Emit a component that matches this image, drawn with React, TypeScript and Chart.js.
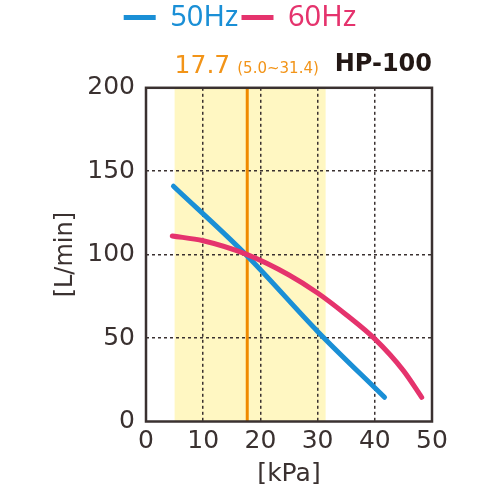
import React, { useEffect, useRef } from "react";
import { Chart, registerables } from "chart.js";

Chart.register(...registerables);

const kPa50 = [4.8, 17.7, 30, 41.7];
const flow50 = [141, 99.2, 54, 14.5];
const kPa60 = [4.6, 10, 17.7, 25, 30, 35, 40, 45, 48.2];
const flow60 = [111.2, 108.3, 100, 87.8, 77, 64, 49.5, 30.5, 14.5];
const seriesLabels = ["50Hz", "60Hz"];
const ratedKPa = 17.7;
const rangeKPa = [5.0, 31.4];
const yRange = [0, 200];
const xRange = [0, 50];
const modelName = "HP-100";

const BLUE = "#1a8fd6";
const PINK = "#e5336d";
const ORANGE = "#f08a00";
const ORANGE_TEXT = "#f29418";
const DARK = "#3a3130";
const BAND = "#fff7c2";
const FONT = "'Noto Sans', sans-serif";
const NUMFONT = "'DejaVu Sans', sans-serif";

export default function App() {
  const ref = useRef<HTMLCanvasElement>(null);
  useEffect(() => {
    const canvas = ref.current!;
    const bandPlugin = {
      id: "band",
      beforeDraw(chart: any) {
        const { ctx, chartArea, scales } = chart;
        const x0 = scales.x.getPixelForValue(rangeKPa[0]);
        const x1 = scales.x.getPixelForValue(rangeKPa[1]);
        ctx.save();
        ctx.fillStyle = BAND;
        ctx.fillRect(x0, chartArea.top, x1 - x0, chartArea.bottom - chartArea.top);
        ctx.restore();
      },
      afterDraw(chart: any) {
        const { ctx, chartArea, scales } = chart;
        ctx.save();
        ctx.strokeStyle = DARK;
        ctx.lineWidth = 2.5;
        ctx.strokeRect(chartArea.left, chartArea.top, chartArea.right - chartArea.left, chartArea.bottom - chartArea.top);
        const x = scales.x.getPixelForValue(rangeKPa[0]);
        const base = 73;
        ctx.fillStyle = ORANGE_TEXT;
        ctx.textBaseline = "alphabetic";
        ctx.textAlign = "left";
        ctx.font = `25px ${NUMFONT}`;
        const main = String(ratedKPa);
        ctx.fillText(main, x, base);
        const w = ctx.measureText(main).width;
        ctx.font = `15px ${NUMFONT}`;
        ctx.fillText(`(${rangeKPa[0].toFixed(1)}~${rangeKPa[1].toFixed(1)})`, x + w + 7, base);
        ctx.restore();
      },
    };
    const chart = new Chart(canvas, {
      type: "line",
      data: {
        datasets: [
          {
            label: seriesLabels[1],
            data: kPa60.map((x, i) => ({ x, y: flow60[i] })),
            borderColor: PINK,
            backgroundColor: PINK,
            borderWidth: 5,
            borderCapStyle: "round",
            pointRadius: 0,
            cubicInterpolationMode: "monotone",
            order: 1,
          },
          {
            label: seriesLabels[0],
            data: kPa50.map((x, i) => ({ x, y: flow50[i] })),
            borderColor: BLUE,
            backgroundColor: BLUE,
            borderWidth: 5,
            borderCapStyle: "round",
            pointRadius: 0,
            cubicInterpolationMode: "monotone",
            order: 2,
          },
          {
            label: "",
            data: yRange.map((y) => ({ x: ratedKPa, y })),
            borderColor: ORANGE,
            backgroundColor: ORANGE,
            borderWidth: 3,
            pointRadius: 0,
            order: 3,
          },
        ],
      },
      options: {
        animation: false,
        responsive: false,
        devicePixelRatio: 1,
        layout: { padding: { top: 0, left: 48, right: 68, bottom: 11 } },
        plugins: {
          tooltip: { enabled: false },
          legend: {
            display: true,
            position: "top",
            weight: 3000,
            labels: {
              padding: 3,
              boxWidth: 32,
              boxHeight: 5,
              useBorderRadius: true,
              borderRadius: 2.5,
              font: { family: FONT, size: 29 },
              generateLabels: () =>
                [0, 1].map((i) => ({
                  text: seriesLabels[i],
                  fillStyle: i === 0 ? BLUE : PINK,
                  strokeStyle: i === 0 ? BLUE : PINK,
                  lineWidth: 0,
                  fontColor: i === 0 ? BLUE : PINK,
                  hidden: false,
                  datasetIndex: i === 0 ? 1 : 0,
                })),
            },
          },
          title: {
            display: true,
            text: modelName,
            align: "end",
            position: "top",
            weight: 2000,
            color: "#231815",
            font: { family: NUMFONT, size: 24, weight: "bold" },
            padding: { top: 8, bottom: 9 },
          },
        },
        scales: {
          x: {
            type: "linear",
            min: xRange[0],
            max: xRange[1],
            afterFit: (s: any) => {
              s.height = 67.5;
            },
            ticks: {
              stepSize: 10,
              padding: 5,
              color: DARK,
              font: { family: NUMFONT, size: 25 },
            },
            grid: {
              drawTicks: false,
              color: (c: any) => (c.tick && (c.tick.value === xRange[0] || c.tick.value === xRange[1]) ? "rgba(0,0,0,0)" : DARK),
              lineWidth: 1.5,
            },
            border: { display: false, dash: [3, 3] },
            title: {
              display: true,
              text: "[kPa]",
              color: DARK,
              font: { family: NUMFONT, size: 25 },
              padding: { top: 0, bottom: 0 },
            },
          },
          y: {
            type: "linear",
            min: yRange[0],
            max: yRange[1],
            afterFit: (s: any) => {
              s.width = 98;
            },
            ticks: {
              stepSize: 50,
              padding: 11,
              color: DARK,
              font: { family: NUMFONT, size: 25 },
            },
            grid: {
              drawTicks: false,
              color: (c: any) => (c.tick && (c.tick.value === yRange[0] || c.tick.value === yRange[1]) ? "rgba(0,0,0,0)" : DARK),
              lineWidth: 1.5,
            },
            border: { display: false, dash: [3, 3] },
            title: {
              display: true,
              text: "[L/min]",
              color: DARK,
              font: { family: NUMFONT, size: 24 },
              padding: { top: 3, bottom: 0 },
            },
          },
        },
      },
      plugins: [bandPlugin],
    } as any);
    return () => chart.destroy();
  }, []);
  return (
    <div style={{ position: "fixed", left: 0, top: 0, width: 500, height: 500, background: "#fff" }}>
      <canvas ref={ref} width={500} height={500} style={{ width: 500, height: 500, display: "block" }} />
    </div>
  );
}
